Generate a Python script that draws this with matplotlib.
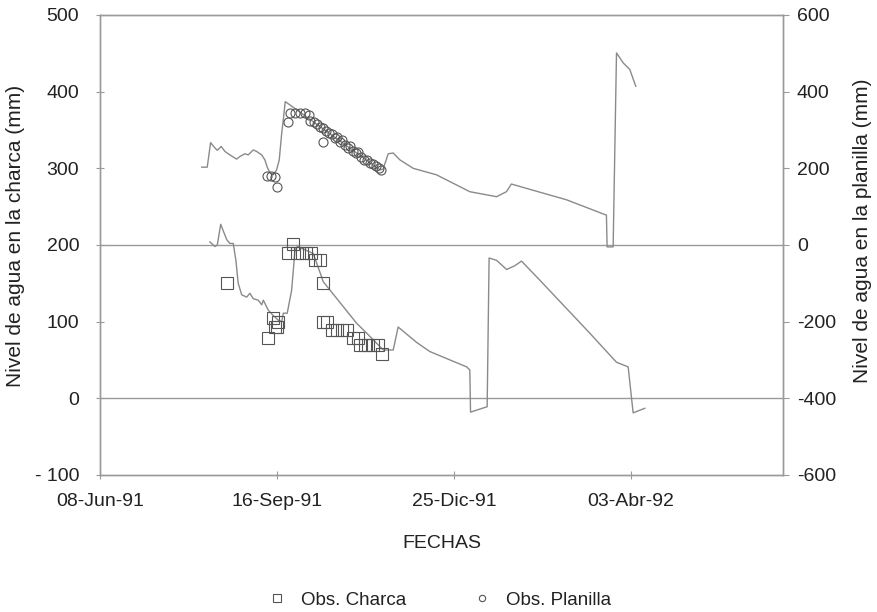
import numpy as np
import pandas as pd
import matplotlib
matplotlib.use("Agg")
import matplotlib.pyplot as plt

plt.rcParams["font.family"] = ["Liberation Sans", "DejaVu Sans"]
plt.rcParams["axes.unicode_minus"] = False

# days counted from 08-Jun-91
start = pd.Timestamp("1991-06-08")

# simulated level in the planilla (right axis, mm)
plan_day = [57.5, 60.6, 62.5, 65, 66.3, 68.5, 70.6, 73.4, 77.2, 79.1, 81.9, 83.8,
            86.6, 88.5, 91.4, 93.2, 94.5, 96, 97.9, 99.8, 101.3, 102.7, 103.6,
            104.7, 111.1, 158.2, 160, 162.9, 165.7, 169.5, 177, 190.2, 209,
            224.1, 229.7, 232.5, 243.8, 263.6, 284.4, 286.2, 286.6, 290,
            291.9, 295.7, 299.4, 302.8]
plan_sim = [203, 203, 267, 253, 247, 257, 244, 235, 224, 231, 238, 235,
            248, 244, 235, 222, 203, 189, 183, 196, 222, 292, 327,
            374, 353, 196, 198, 238, 240, 222, 200, 183, 139,
            126, 139, 159, 144, 118, 81, 78, -5, -5,
            501, 475, 458, 414]

# simulated level in the charca (left axis, mm)
charca_day = [62.1, 65, 66.3, 68.2, 71.6, 73.4, 75.3, 76.8, 78.1, 80.1, 82.9,
              84.7, 86.6, 89.4, 91.4, 92.3, 95.1, 97.9, 100.7, 102.7, 103.6,
              105.8, 108.3, 110.2, 111.5, 120.5, 126.2, 145, 150.7, 160.1,
              165.7, 168.5, 178.9, 186.4, 207.2, 209, 209.4, 218.8, 219.9,
              224.1, 229.8, 234.5, 238.2, 248.6, 276.8, 291.9, 298.5, 301.3,
              307.9]
charca_sim = [204, 198, 200, 227, 207, 202, 202, 180, 150, 135, 132,
              137, 130, 128, 122, 128, 115, 108, 102, 100, 111,
              111, 141, 193, 198, 189, 152, 98, 85, 63,
              63, 93, 73, 61, 41, 37, -18, -11, 183,
              180, 168, 173, 179, 154, 85, 47, 41, -19,
              -13]

# observations
obs_charca_day = [71.6, 95.1, 97.9, 98.9, 99.8, 100.6, 108.9, 106.4, 111.5,
                  113.9, 116.4, 119.2, 121.5, 124.3, 125.8, 126.2, 128.1,
                  130.9, 133.7, 136.5, 139.4, 143.1, 145.9, 146.9, 149.7,
                  151.6, 154.4, 157.2, 159.2]
obs_charca = [150, 79, 105, 93, 93, 99, 201, 190, 190,
              190, 190, 190, 181, 180, 150, 100, 100,
              89, 89, 89, 89, 79, 79, 69, 69,
              69, 69, 69, 58]

obs_plan_day = [94.2, 96.4, 98.9, 99.8, 106.2, 107.3, 110.2, 113, 115.8, 118.1,
                118.6, 120.9, 122.6, 124.3, 126, 127.7, 126, 129.4, 131.1,
                132.8, 133.9, 135.6, 136.7, 138.4, 140.1, 141.2, 142.9, 144.6,
                145.8, 147.5, 149.2, 150.8, 152.5, 154.2, 155.9, 157.6, 158.8]
obs_plan = [181, 179, 177, 152, 322, 345, 345, 345, 345, 340,
            324, 322, 316, 308, 306, 298, 269, 293, 290,
            280, 282, 269, 275, 261, 254, 259, 246, 241,
            243, 230, 222, 222, 214, 212, 207, 201, 196]

tick_days = [0, 100, 200, 300]
tick_labels = ["08-Jun-91", "16-Sep-91", "25-Dic-91", "03-Abr-92"]


def to_dates(days):
    return start + pd.to_timedelta(np.array(days, dtype=float), unit="D")


line_col = "#8a8a8a"
mk_col = "#555555"
fs = 14

fig = plt.figure(figsize=(8.78, 6.12), dpi=100)
ax = fig.add_axes([0.1139, 0.2239, 0.7779, 0.7516])
ax2 = ax.twinx()

ax.axhline(0, color="#9a9a9a", lw=1.0, zorder=1)
ax.axhline(200, color="#9a9a9a", lw=1.0, zorder=1)

ax.plot(to_dates(charca_day), charca_sim, color=line_col, lw=1.0, zorder=2)
l1, = ax.plot(to_dates(obs_charca_day), obs_charca, ls="none", marker="s",
              ms=8.5, mfc="none", mec=mk_col, mew=0.8, zorder=3,
              label="Obs. Charca")

ax2.plot(to_dates(plan_day), plan_sim, color=line_col, lw=1.0, zorder=2)
l2, = ax2.plot(to_dates(obs_plan_day), obs_plan, ls="none", marker="o",
               ms=6.5, mfc="none", mec=mk_col, mew=0.8, zorder=3,
               label="Obs. Planilla")

ax.set_xlim(start, start + pd.Timedelta(days=386))
ax.set_ylim(-100, 500)
ax.set_yticks(np.arange(-100, 501, 100))
ax.set_yticklabels(["- 100", "0", "100", "200", "300", "400", "500"])
ax2.set_ylim(-600, 600)
ax2.set_yticks(np.arange(-600, 601, 200))

ax.set_xticks(to_dates(tick_days))
ax.set_xticklabels(tick_labels)

for a in (ax, ax2):
    for s in a.spines.values():
        s.set_color("#9a9a9a")
        s.set_linewidth(1.0)
    a.tick_params(labelsize=fs, colors="#9a9a9a", labelcolor="#222222",
                  direction="inout", length=6, width=0.8)
ax.tick_params(axis="x", pad=10)
ax.tick_params(axis="y", pad=12)
ax2.tick_params(axis="y", direction="out", length=4, pad=6)

ax.set_xlabel("FECHAS", fontsize=fs, color="#222222")
ax.xaxis.set_label_coords(0.5, -0.13)
ax.set_ylabel("Nivel de agua en la charca (mm)", fontsize=15, color="#222222")
ax.yaxis.set_label_coords(-0.11, 0.52)
ax2.set_ylabel("Nivel de agua en la planilla (mm)", fontsize=15, color="#222222")
ax2.yaxis.set_label_coords(1.102, 0.53)

fig.legend(handles=[l1, l2], loc="center", bbox_to_anchor=(0.495, 0.019),
           ncol=2, frameon=False, fontsize=13.5, columnspacing=3.0,
           handletextpad=0.3, markerscale=0.7, labelcolor="#222222")

fig.savefig("out.png", dpi=100)
